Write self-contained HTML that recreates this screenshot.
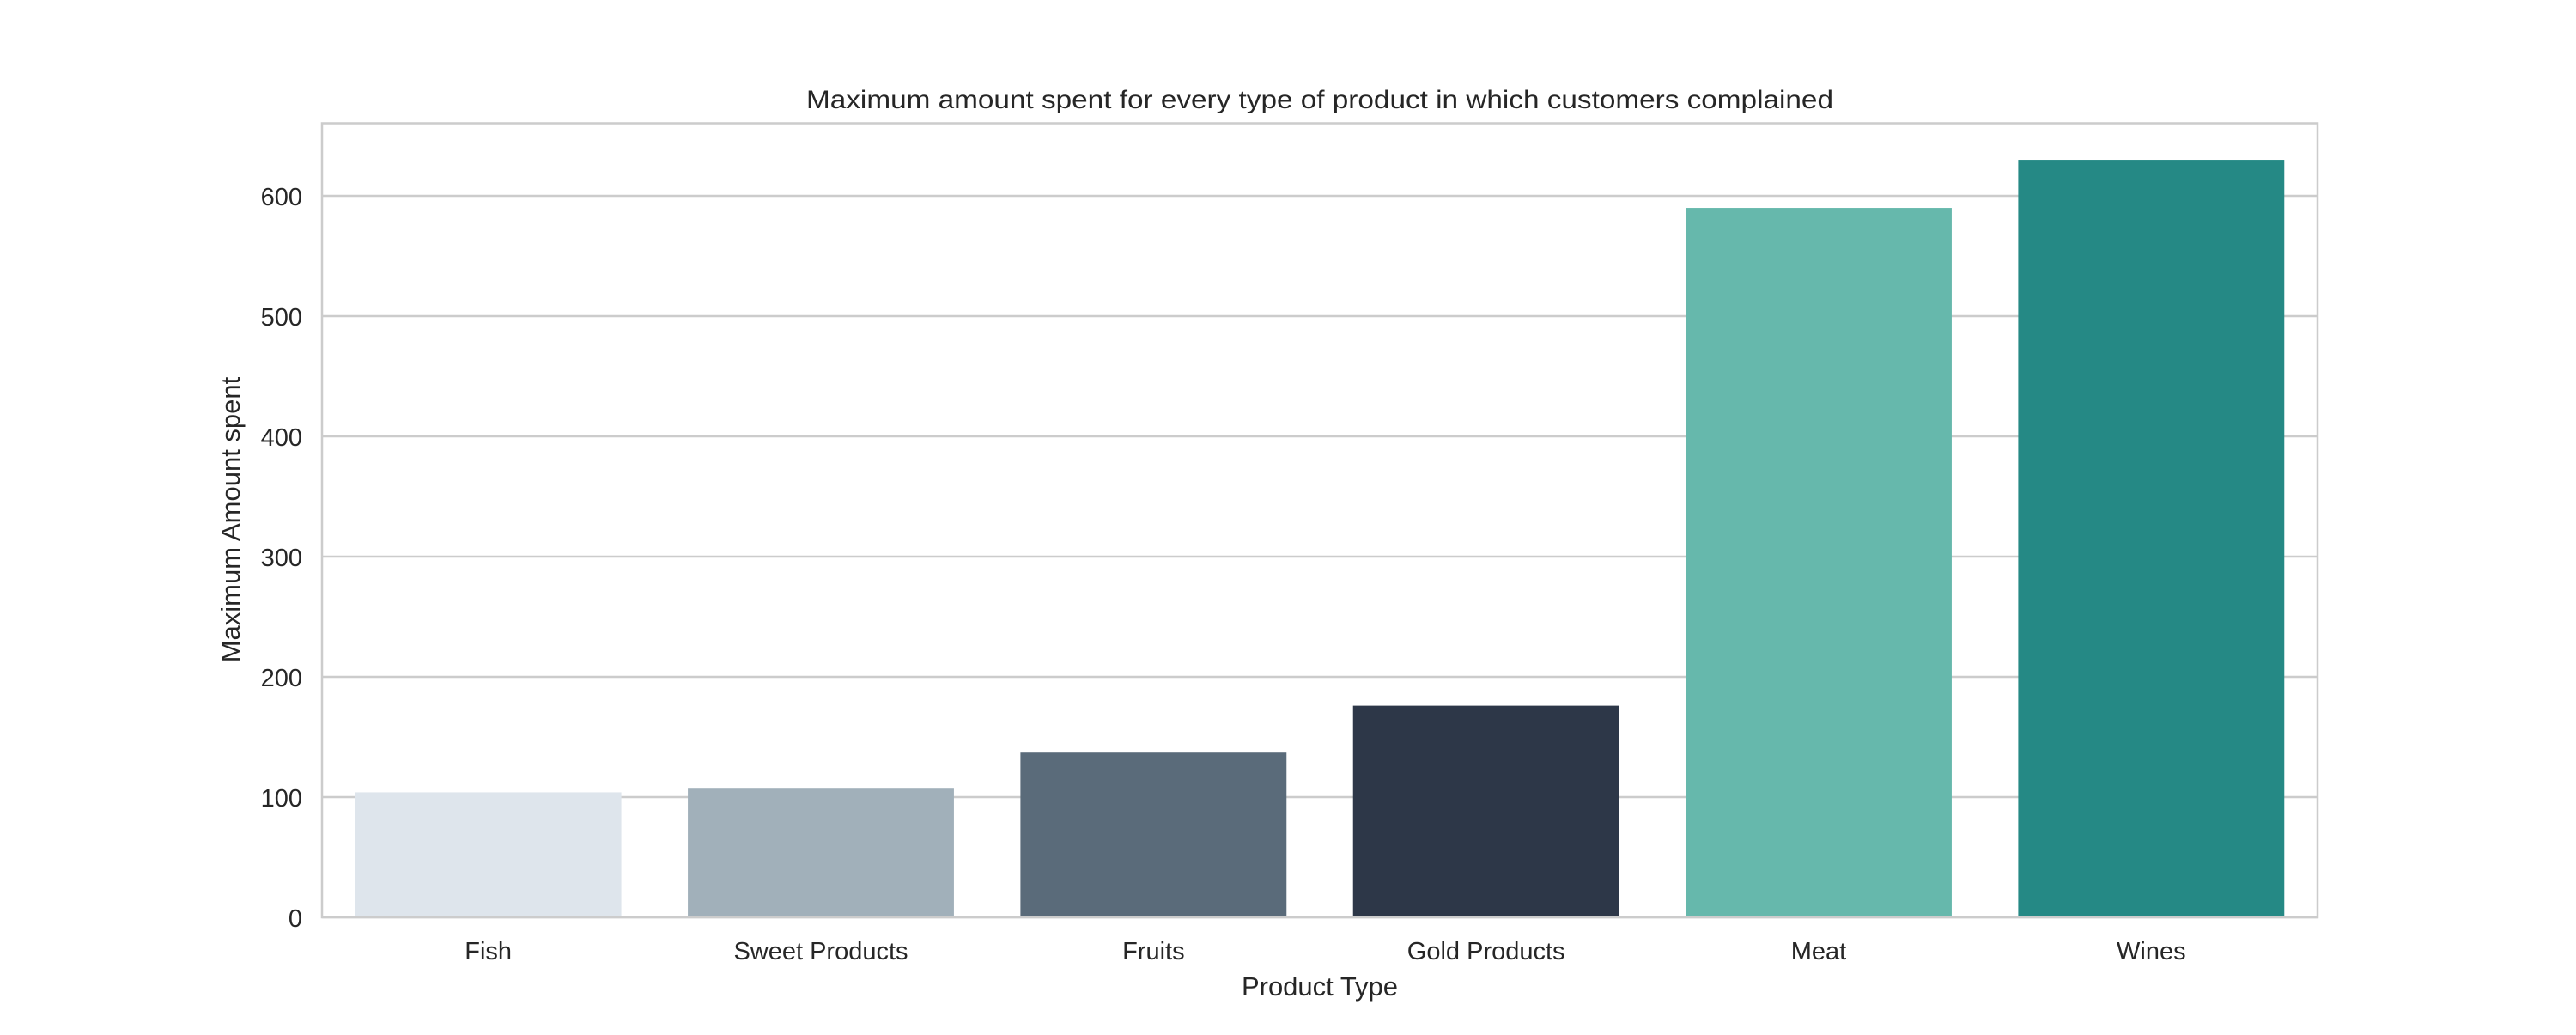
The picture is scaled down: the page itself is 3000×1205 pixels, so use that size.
<!DOCTYPE html>
<html><head><meta charset="utf-8"><style>
html,body{margin:0;padding:0;background:#fff;}
svg text{font-family:"Liberation Sans",Arial,sans-serif;fill:#262626;}
</style></head><body>
<svg id="chart" width="3000" height="1200" viewBox="0 0 3000 1200" xmlns="http://www.w3.org/2000/svg">
<rect width="3000" height="1200" fill="#fff"/>
<g id="grid"></g>
<g id="bars"></g>
<rect x="375" y="143.5" width="2324" height="924.5" fill="none" stroke="#cccccc" stroke-width="2.5"/>
<g id="labels"></g>
<text x="1537" y="126" font-size="30" text-anchor="middle" textLength="1196" lengthAdjust="spacingAndGlyphs">Maximum amount spent for every type of product in which customers complained</text>
<text x="1537" y="1159" font-size="31" text-anchor="middle">Product Type</text>
<text x="0" y="0" font-size="31" text-anchor="middle" transform="translate(279,605) rotate(-90)">Maximum Amount spent</text>
</svg>
<script>
const categories = ["Fish","Sweet Products","Fruits","Gold Products","Meat","Wines"];
const values = [104,107,137,176,590,630];
const colors = ["#dee5ec","#a1b0ba","#5a6b7a","#2d3748","#66b8ac","#258985"];
const yTicks = [0,100,200,300,400,500,600];

const NS="http://www.w3.org/2000/svg";
const plotLeft=375, plotRight=2699, plotTop=143.5, plotBottom=1068, yMax=660.4;
function yScale(v){return plotBottom-(v/yMax)*(plotBottom-plotTop);}
const band=(plotRight-plotLeft)/categories.length;
function xc(i){return plotLeft+band*(i+0.5);}
const grid=document.getElementById('grid'), bars=document.getElementById('bars'), labels=document.getElementById('labels');
yTicks.forEach(t=>{
  const l=document.createElementNS(NS,'line');
  
  
  l.setAttribute('x1',plotLeft);l.setAttribute('x2',plotRight);
  l.setAttribute('y1',yScale(t));l.setAttribute('y2',yScale(t));
  l.setAttribute('stroke','#cccccc');l.setAttribute('stroke-width','2.5');
  grid.appendChild(l);
  const tx=document.createElementNS(NS,'text');
  
  
  tx.setAttribute('x',352);tx.setAttribute('y',yScale(t)+11);
  tx.setAttribute('font-size','29');tx.setAttribute('text-anchor','end');
  tx.textContent=t;
  labels.appendChild(tx);
});
const bw=band*0.8;
categories.forEach((c,i)=>{
  const r=document.createElementNS(NS,'rect');
  
  
  r.setAttribute('x',xc(i)-bw/2);r.setAttribute('width',bw);
  r.setAttribute('y',yScale(values[i]));r.setAttribute('height',plotBottom-yScale(values[i]));
  r.setAttribute('fill',colors[i]);
  bars.appendChild(r);
  const tx=document.createElementNS(NS,'text');
  
  
  tx.setAttribute('x',xc(i));tx.setAttribute('y',1117);
  tx.setAttribute('font-size','29');tx.setAttribute('text-anchor','middle');
  tx.textContent=c;
  labels.appendChild(tx);
});
</script>
</body></html>
